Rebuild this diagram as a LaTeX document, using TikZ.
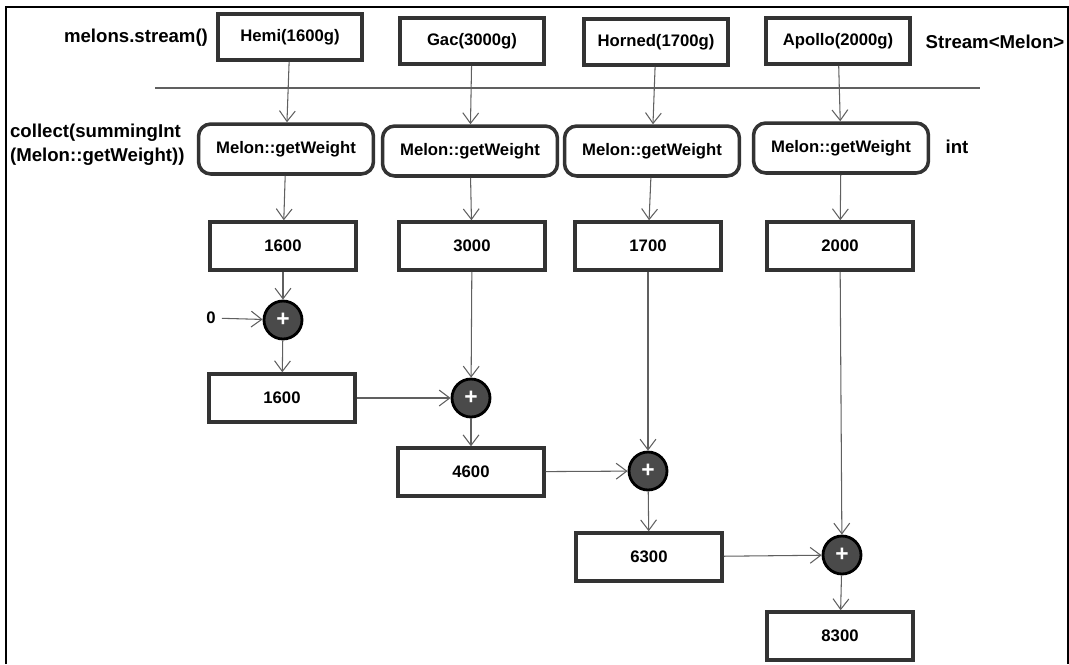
\documentclass[tikz,border=0pt]{standalone}
\usepackage{fontspec}
\setmainfont{Liberation Sans}
\usetikzlibrary{arrows.meta}
\definecolor{boxline}{HTML}{333333}
\definecolor{flowgray}{HTML}{606060}
\definecolor{plusfill}{HTML}{4A4A4A}
\begin{document}
\begin{tikzpicture}[x=0.02cm,y=-0.02cm,
  every node/.style={font=\fontsize{9.5}{11}\selectfont\bfseries},
  sidelbl/.style={font=\fontsize{10.6}{13.5}\selectfont\bfseries},
  melonbox/.style={draw=boxline,line width=2pt,minimum width=2.88cm,minimum height=0.92cm},
  weightfn/.style={draw=boxline,line width=2pt,rounded corners=7pt,minimum width=3.5cm,minimum height=1cm},
  valbox/.style={draw=boxline,line width=2pt,minimum width=2.92cm,minimum height=0.96cm},
  adder/.style={circle,draw=black,line width=1.6pt,fill=plusfill,text=white,minimum size=0.76cm,inner sep=0pt,font=\fontsize{13}{13}\selectfont\bfseries},
  flow/.style={draw=flowgray,line width=0.6pt,-{Straight Barb[length=6pt,width=9pt]}}]
\useasboundingbox (0,0) rectangle (1069,664);

% frame, open at the bottom
\draw[line width=1.6pt] (6,664)--(6,7)--(1068,7)--(1068,664);

% the stream
\node[melonbox] (hemi) at (290,37) {Hemi(1600g)};
\node[melonbox] (gac) at (472,41) {Gac(3000g)};
\node[melonbox] (horned) at (656,42) {Horned(1700g)};
\node[melonbox] (apollo) at (838,41) {Apollo(2000g)};

\node[sidelbl] (streamlbl) at (136,38) {melons.stream()};
\node[sidelbl] (typelbl) at (995,42) {Stream<Melon>};

\coordinate (sepL) at (155,88);
\coordinate (sepR) at (980,88);
\draw[flowgray,line width=0.8pt] (sepL)--(sepR);

% collector
\node[sidelbl,align=left,anchor=west,inner sep=1pt] (collectlbl) at (8,145) {collect(summingInt\\(Melon::getWeight))};
\node[sidelbl] (intlbl) at (957,147) {int};

\node[weightfn] (fnA) at (286,149) {Melon::getWeight};
\node[weightfn] (fnB) at (470,151) {Melon::getWeight};
\node[weightfn] (fnC) at (652,151) {Melon::getWeight};
\node[weightfn] (fnD) at (841,148) {Melon::getWeight};

\node[valbox] (wA) at (283,246) {1600};
\node[valbox] (wB) at (472,246) {3000};
\node[valbox] (wC) at (648,246) {1700};
\node[valbox] (wD) at (840,246) {2000};

% accumulation
\node (zero) at (211,318) {0};
\node[adder] (addA) at (283,320) {+};
\node[adder] (addB) at (471,398) {+};
\node[adder] (addC) at (648,471) {+};
\node[adder] (addD) at (842,555) {+};

\node[valbox] (sumA) at (282,398) {1600};
\node[valbox] (sumB) at (471,472) {4600};
\node[valbox] (sumC) at (649,557) {6300};
\node[valbox] (sumD) at (840,636) {8300};

\draw[flow] (hemi)--(fnA);
\draw[flow] (gac)--(fnB);
\draw[flow] (horned)--(fnC);
\draw[flow] (apollo)--(fnD);

\draw[flow] (fnA)--(wA);
\draw[flow] (fnB)--(wB);
\draw[flow] (fnC)--(wC);
\draw[flow] (fnD)--(wD);

\draw[flow] (zero)--(addA);
\draw[flow] (wA)--(addA);
\draw[flow] (addA)--(sumA);

\draw[flow] (wB)--(addB);
\draw[flow] (sumA)--(addB);
\draw[flow] (addB)--(sumB);

\draw[flow] (wC)--(addC);
\draw[flow] (sumB)--(addC);
\draw[flow] (addC)--(sumC);

\draw[flow] (wD)--(addD);
\draw[flow] (sumC)--(addD);
\draw[flow] (addD)--(sumD);
\end{tikzpicture}
\end{document}
